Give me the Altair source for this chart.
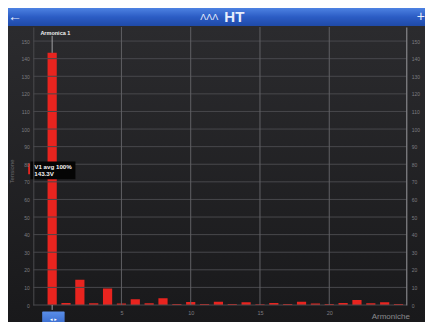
import altair as alt
import pandas as pd

# ---- data ----
harmonic = list(range(26))
voltage = [143.3, 1.1, 14.4, 1.0, 9.4, 0.9, 3.3, 1.0, 3.8, 0.6, 1.7, 0.6, 1.8,
           0.6, 1.5, 0.4, 1.1, 0.5, 1.9, 0.8, 0.6, 1.2, 2.8, 1.0, 1.6, 0.6]
y_ticks = list(range(0, 151, 10))
x_ticks = [5, 10, 15, 20]
cursor_label = "Armonica 1"
tip_line1 = "V1 avg 100%"
tip_line2 = "143.3V"
y_title = "Tensione"
x_title = "Armoniche"

FONT = "Liberation Sans"
TOTAL_W, TOTAL_H = 417, 314
PAD_L, PAD_T, PAD_B = 25.3, 19, 17
W = 373
H = TOTAL_H - PAD_T - PAD_B
PAD_R = TOTAL_W - PAD_L - W
XS = alt.Scale(domain=[-1, 25.2], nice=False, zero=False)
YS = alt.Scale(domain=[0, 158], nice=False, zero=False)

XAX = alt.Axis(values=x_ticks, grid=False, ticks=False, domain=False, zindex=1,
               labelColor="#7c7c80", labelFont=FONT, labelFontSize=5.5,
               labelPadding=5, title=x_title, titleColor="#8a8a8e",
               titleFont=FONT, titleFontSize=8, titleFontWeight="normal",
               titleX=357, titleY=7, titleBaseline="top")

bars_df = pd.DataFrame({"h": harmonic, "v": voltage})
one = pd.DataFrame({"a": [0]})

# background gradient (decoration)
bg = alt.Chart(one).mark_rect(
    clip=False,
    color=alt.LinearGradient(gradient="linear", x1=0, y1=0, x2=0, y2=1,
                             stops=[alt.GradientStop(color="#2b2b2e", offset=0),
                                    alt.GradientStop(color="#19191b", offset=1)])
).encode(x=alt.value(-PAD_L), x2=alt.value(W + PAD_R), y=alt.value(-1), y2=alt.value(H + PAD_B))

# header bar (decoration)
header = alt.Chart(one).mark_rect(
    clip=False,
    color=alt.LinearGradient(gradient="linear", x1=0, y1=0, x2=0, y2=1,
                             stops=[alt.GradientStop(color="#4d82e2", offset=0),
                                    alt.GradientStop(color="#2b5cc4", offset=0.5),
                                    alt.GradientStop(color="#1f4aa8", offset=1)])
).encode(x=alt.value(-PAD_L), x2=alt.value(W + PAD_R), y=alt.value(-PAD_T), y2=alt.value(-1))

hdr_text = pd.DataFrame({
    "t": ["\u2190", "+", "\u039b\u039b\u039b", "HT"],
    "px": [-18.3, 387.5, 176, 201],
    "py": [-10, -10.5, -10, -10],
    "fs": [14, 14, 9, 15],
    "fw": ["normal", "normal", "normal", "bold"],
})
hdr_marks = []
for _, r in hdr_text.iterrows():
    hdr_marks.append(
        alt.Chart(one).mark_text(text=r["t"], font=FONT, fontSize=int(r["fs"]),
                                 fontWeight=r["fw"], color="#e8eefc", clip=False,
                                 baseline="middle", align="center")
        .encode(x=alt.value(float(r["px"])), y=alt.value(float(r["py"])))
    )

# grid lines as rules
hgrid = alt.Chart(pd.DataFrame({"v": y_ticks})).mark_rule(color="#48484c", strokeWidth=1).encode(
    y=alt.Y("v:Q", scale=YS,
            axis=alt.Axis(orient="right", values=y_ticks, grid=False, ticks=False, zindex=1,
                          domainColor="#9a9a9e", labelColor="#7c7c80", labelFont=FONT,
                          labelFontSize=5, labelPadding=5, title=None))
)
vgrid = alt.Chart(pd.DataFrame({"h": x_ticks})).mark_rule(color="#606064", strokeWidth=1).encode(
    x=alt.X("h:Q", scale=XS, axis=XAX)
)

bars = alt.Chart(bars_df).mark_bar(size=9.2, color="#e8241f", clip=True).encode(
    x=alt.X("h:Q", scale=XS, axis=XAX),
    y=alt.Y("v:Q", scale=YS,
            axis=alt.Axis(orient="left", values=y_ticks, grid=False, ticks=False, zindex=1,
                          domainColor="#4a4a4e", labelColor="#7c7c80", labelFont=FONT,
                          labelFontSize=5, labelPadding=4, title=y_title,
                          titleColor="#6c6c70", titleFont=FONT, titleFontSize=6,
                          titleFontWeight="normal", titleX=-21.6, titleY=144,
                          titleAngle=-90, titleBaseline="middle")),
)

# cursor
cursor = alt.Chart(pd.DataFrame({"h": [0, 0], "y": [153, 0], "y2": [143.3, -2.8]})).mark_rule(
    color="#a0a0a4", strokeWidth=1, clip=False
).encode(x=alt.X("h:Q", scale=XS, axis=XAX), y=alt.Y("y:Q", scale=YS, axis=None), y2="y2:Q")

cursor_txt = alt.Chart(pd.DataFrame({"h": [-0.85], "y": [154.8], "t": [cursor_label]})).mark_text(
    align="left", baseline="middle", color="#f0f0f0", font=FONT, fontSize=5.5,
    fontWeight="bold", clip=False
).encode(x=alt.X("h:Q", scale=XS, axis=XAX), y=alt.Y("y:Q", scale=YS, axis=None), text="t:N")

# tooltip box
tip_box = alt.Chart(pd.DataFrame({"x": [-1.57], "x2": [1.68], "y": [81.5], "y2": [71.5]})).mark_rect(
    color="#050505", clip=False
).encode(x=alt.X("x:Q", scale=XS, axis=XAX), x2="x2:Q",
         y=alt.Y("y:Q", scale=YS, axis=None), y2="y2:Q")
tip_mark = alt.Chart(pd.DataFrame({"x": [-1.73], "x2": [-1.6], "y": [80.4], "y2": [74.3]})).mark_rect(
    color="#e8241f", clip=False
).encode(x=alt.X("x:Q", scale=XS, axis=XAX), x2="x2:Q",
         y=alt.Y("y:Q", scale=YS, axis=None), y2="y2:Q")
tip_txt = alt.Chart(pd.DataFrame({"x": [-1.29, -1.29], "y": [78.6, 74.4],
                                  "t": [tip_line1, tip_line2]})).mark_text(
    align="left", baseline="middle", color="#f4f4f4", font=FONT, fontSize=6.2,
    fontWeight="bold", clip=False
).encode(x=alt.X("x:Q", scale=XS, axis=XAX), y=alt.Y("y:Q", scale=YS, axis=None), text="t:N")

# bottom navigation button
btn = alt.Chart(pd.DataFrame({"x": [-0.72], "x2": [0.9], "y": [-3.7], "y2": [-14]})).mark_rect(
    clip=False, cornerRadius=1,
    color=alt.LinearGradient(gradient="linear", x1=0, y1=0, x2=0, y2=1,
                             stops=[alt.GradientStop(color="#5a8ee8", offset=0),
                                    alt.GradientStop(color="#2a5cc2", offset=1)])
).encode(x=alt.X("x:Q", scale=XS, axis=XAX), x2="x2:Q",
         y=alt.Y("y:Q", scale=YS, axis=None), y2="y2:Q")
btn_txt = alt.Chart(pd.DataFrame({"x": [0.09], "y": [-7.8], "t": ["\u25c2 \u25b8"]})).mark_text(
    align="center", baseline="middle", color="#ffffff", font="DejaVu Sans", fontSize=5, clip=False
).encode(x=alt.X("x:Q", scale=XS, axis=XAX), y=alt.Y("y:Q", scale=YS, axis=None), text="t:N")

chart = alt.layer(
    bg, bars, hgrid, vgrid, cursor, cursor_txt, tip_box, tip_mark, tip_txt,
    btn, btn_txt, header, *hdr_marks
).resolve_axis(y="independent").properties(
    width=W, height=H,
    autosize=alt.AutoSizeParams(type="none"),
    padding={"left": PAD_L, "top": PAD_T, "right": PAD_R, "bottom": PAD_B},
    background="#1c1c1f",
).configure_view(stroke=None)

chart.save("out.html", embed_options={"renderer": "svg", "actions": False})
